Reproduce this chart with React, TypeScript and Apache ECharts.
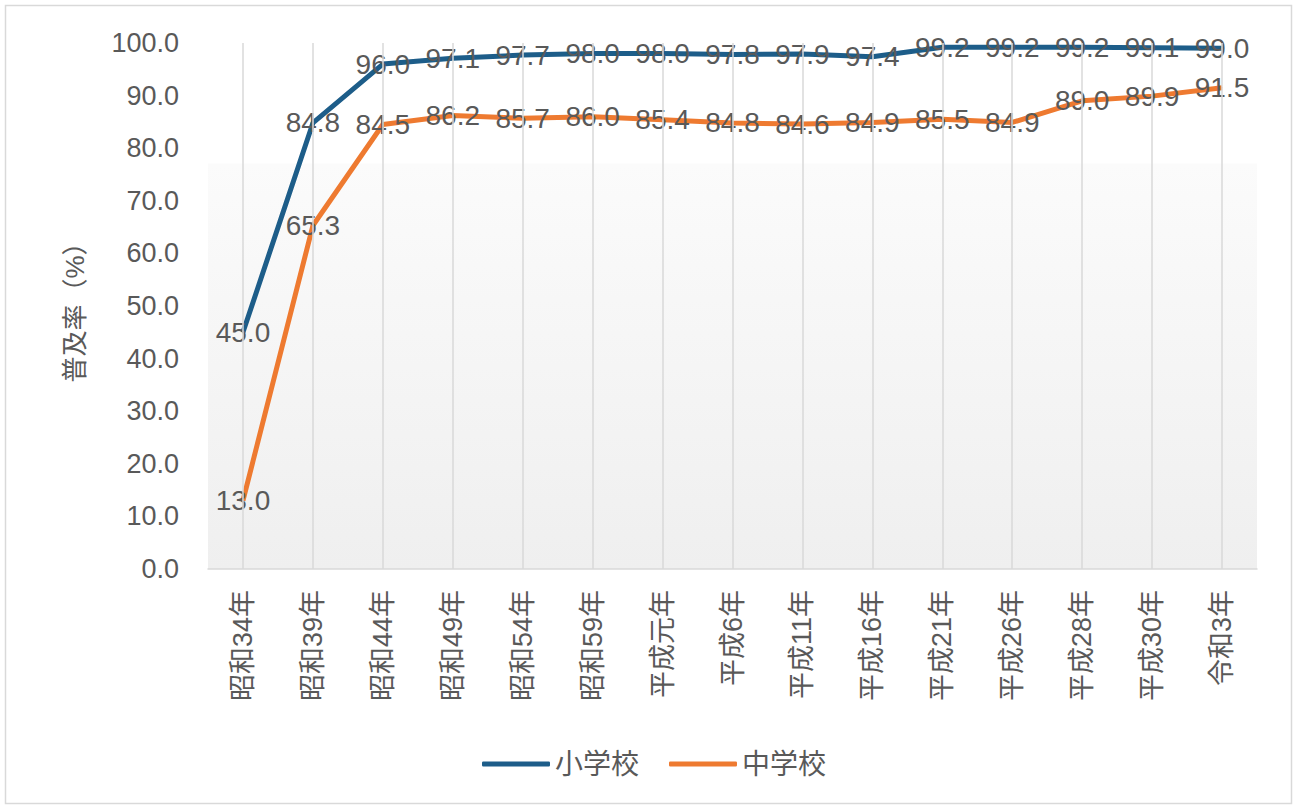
import React, { useEffect, useRef } from "react";
import * as echarts from "echarts";

const categories = [
  "昭和34年", "昭和39年", "昭和44年", "昭和49年", "昭和54年", "昭和59年", "平成元年",
  "平成6年", "平成11年", "平成16年", "平成21年", "平成26年", "平成28年", "平成30年", "令和3年",
];
const elementary = [45.0, 84.8, 96.0, 97.1, 97.7, 98.0, 98.0, 97.8, 97.9, 97.4, 99.2, 99.2, 99.2, 99.1, 99.0];
const juniorHigh = [13.0, 65.3, 84.5, 86.2, 85.7, 86.0, 85.4, 84.8, 84.6, 84.9, 85.5, 84.9, 89.0, 89.9, 91.5];
const seriesNames = ["小学校", "中学校"];
const yAxisTitle = "普及率（%）";

const FONT = "'Liberation Sans', 'Noto Sans CJK JP', sans-serif";
const TEXT = "#595959";
const BLUE = "#1D5D89";
const ORANGE = "#EE7A30";

export default function App() {
  const ref = useRef<HTMLDivElement>(null);
  useEffect(() => {
    if (!ref.current) return;
    const chart = echarts.init(ref.current, null, { renderer: "svg" });
    const label = {
      show: true,
      position: "inside",
      color: TEXT,
      fontSize: 28,
      fontFamily: FONT,
      formatter: (p: any) => Number(p.value).toFixed(1),
    };
    chart.setOption({
      animation: false,
      backgroundColor: "#ffffff",
      textStyle: { fontFamily: FONT },
      graphic: [
        {
          type: "rect",
          shape: { x: 5.5, y: 5.5, width: 1286, height: 798 },
          style: { fill: "none", stroke: "#d9d9d9", lineWidth: 1.5 },
          silent: true,
          z: -1,
        },
      ],
      grid: {
        left: 208,
        right: 40,
        top: 43,
        bottom: 239,
        show: true,
        borderWidth: 0,
        backgroundColor: new echarts.graphic.LinearGradient(0, 0, 0, 1, [
          { offset: 0, color: "#ffffff" },
          { offset: 0.228, color: "#ffffff" },
          { offset: 0.23, color: "#fbfbfb" },
          { offset: 1, color: "#efefef" },
        ]),
      },
      legend: {
        data: seriesNames,
        top: 745,
        left: 477,
        icon: "roundRect",
        itemWidth: 68,
        itemHeight: 5,
        itemGap: 30,
        textStyle: { color: TEXT, fontSize: 28, fontFamily: FONT },
      },
      xAxis: {
        type: "category",
        data: categories,
        boundaryGap: true,
        axisLine: { show: true, lineStyle: { color: "#d9d9d9", width: 1.5 } },
        axisTick: { show: false },
        splitLine: { show: false },
        axisLabel: {
          interval: 0,
          rotate: 90,
          margin: 21,
          color: TEXT,
          fontSize: 27,
          fontFamily: FONT,
        },
      },
      yAxis: {
        type: "value",
        min: 0,
        max: 100,
        interval: 10,
        name: yAxisTitle,
        nameLocation: "middle",
        nameRotate: 90,
        nameGap: 120,
        nameTextStyle: { color: TEXT, fontSize: 26, fontFamily: FONT },
        axisLine: { show: false },
        axisTick: { show: false },
        splitLine: { show: false },
        axisLabel: {
          margin: 29,
          color: TEXT,
          fontSize: 27,
          fontFamily: FONT,
          formatter: (v: number) => v.toFixed(1),
        },
      },
      series: [
        {
          name: "_grid",
          type: "line",
          data: [],
          z: 1,
          silent: true,
          markLine: {
            silent: true,
            symbol: ["none", "none"],
            label: { show: false },
            lineStyle: { color: "#d9d9d9", width: 1.5, type: "solid" },
            data: categories.map((c) => ({ xAxis: c })),
          },
        },
        {
          name: seriesNames[0],
          type: "line",
          data: elementary,
          z: 3,
          symbol: "circle",
          symbolSize: 1,
          itemStyle: { color: BLUE },
          lineStyle: { color: BLUE, width: 5 },
          label,
        },
        {
          name: seriesNames[1],
          type: "line",
          data: juniorHigh,
          z: 3,
          symbol: "circle",
          symbolSize: 1,
          itemStyle: { color: ORANGE },
          lineStyle: { color: ORANGE, width: 5 },
          label,
        },
      ],
    });
    return () => chart.dispose();
  }, []);
  return (
    <div
      ref={ref}
      style={{ position: "fixed", left: 0, top: 0, width: 1297, height: 808 }}
    />
  );
}
